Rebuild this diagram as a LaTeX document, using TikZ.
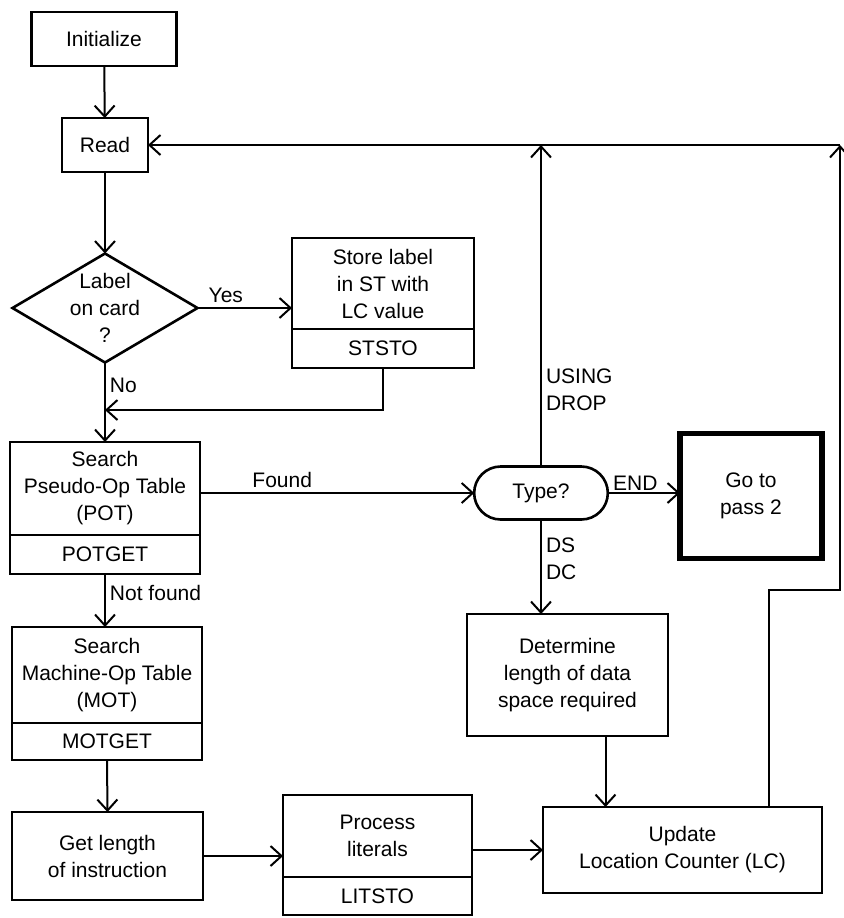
\documentclass[tikz,border=0pt]{standalone}
\usepackage{fontspec}
\setmainfont{Liberation Sans}
\usepackage{tikz}
\usetikzlibrary{shapes,arrows.meta,positioning,calc}

\begin{document}
\begin{tikzpicture}[
    x=0.5pt, y=-0.5pt,
    >={Straight Barb[length=5.5pt,width=10pt]},
    box/.style={rectangle, draw, line width=1.3pt, outer sep=0pt, align=center, inner sep=2pt, font=\fontsize{10.5}{13.5}\selectfont},
    decision/.style={diamond, draw, line width=1.3pt, outer sep=0pt, minimum width=92.5pt, minimum height=54.5pt, inner sep=0pt},
    choice/.style={rounded rectangle, draw, line width=1.3pt, outer sep=0pt, minimum width=73.5pt, minimum height=26.5pt, font=\fontsize{10.5}{13.5}\selectfont},
    flow/.style={->, line width=1pt},
    tag/.style={font=\fontsize{10.5}{13.5}\selectfont, align=left, inner sep=2pt}
]
\useasboundingbox (0,0) rectangle (843,918);

% Left column
\node[box, minimum width=72.5pt, minimum height=27pt] (init) at (104,39) {Initialize};
\node[box, minimum width=43pt, minimum height=27pt] (read) at (105,145) {Read};
\node[decision, label={[tag, align=center]center:Label\\on card\\?}] (card) at (105,308) {};

\node[box, minimum width=91pt, minimum height=45.5pt] (store) at (383,283.5) {Store label\\in ST with\\LC value};
\node[box, minimum width=91pt, minimum height=19.5pt, below=0pt of store] (ststo) {STSTO};

\node[box, minimum width=95pt, minimum height=46.5pt] (pot) at (105,488.5) {Search\\Pseudo-Op Table\\(POT)};
\node[box, minimum width=95pt, minimum height=19.5pt, below=0pt of pot] (potget) {POTGET};

\node[box, minimum width=95pt, minimum height=48pt] (mot) at (107,675) {Search\\Machine-Op Table\\(MOT)};
\node[box, minimum width=95pt, minimum height=18.5pt, below=0pt of mot] (motget) {MOTGET};

\node[box, minimum width=95.5pt, minimum height=44pt] (getlen) at (107.5,856) {Get length\\of instruction};

\node[box, minimum width=94.5pt, minimum height=41pt] (proc) at (377.5,836) {Process\\literals};
\node[box, minimum width=94.5pt, minimum height=19pt, below=0pt of proc] (litsto) {LITSTO};

% Right column
\node[choice] (type) at (541,493) {Type?};
\node[box, line width=2.6pt, minimum width=71pt, minimum height=62.5pt] (pass) at (751,496) {Go to\\pass 2};
\node[box, minimum width=100.5pt, minimum height=61pt] (determ) at (567.5,675) {Determine\\length of data\\space required};
\node[box, minimum width=139.5pt, minimum height=43pt] (update) at (682.5,850) {Update\\Location Counter (LC)};

\coordinate (merge) at (105,410);
\coordinate (loopright) at (840,145);
\coordinate (loopdown) at (840,590);

% Connectors
\draw[flow] (init) -- (read);
\draw[flow] (read) -- (card);
\draw[flow] (card.east) -- (card.east -| store.west) node[tag, pos=0.3, above] {Yes};
\draw[flow] (card.south) -- (pot.north) node[tag, pos=0.29, right] {No};
\draw[flow] (ststo.south) |- (merge);
\draw[flow] (type.west -| pot.east) -- (type.west) node[tag, pos=0.3, above] {Found};
\draw[flow] (potget.south) -- (potget.south |- mot.north) node[tag, pos=0.35, right] {Not found};
\draw[flow] (motget.south) -- (getlen.north);
\draw[flow] (getlen.east) -- (getlen.east -| proc.west);
\draw[flow] (update.west -| litsto.east) -- (update.west);

\draw[flow] (type.east) -- (type.east -| pass.west) node[tag, pos=0.38, above, inner sep=1pt] {END};
\draw[flow] (type.north) -- (type.north |- loopright) node[tag, pos=0.24, right] {USING\\DROP};
\draw[flow] (type.south) -- (type.south |- determ.north) node[tag, pos=0.42, right] {DS\\DC};
\draw[flow] ([xshift=19pt]determ.south) -- ([xshift=19pt]determ.south |- update.north);
\draw[flow] ([xshift=43pt]update.north) |- (loopdown) -- (loopright);
\draw[flow] (loopright) -- (read.east);

\end{tikzpicture}
\end{document}
